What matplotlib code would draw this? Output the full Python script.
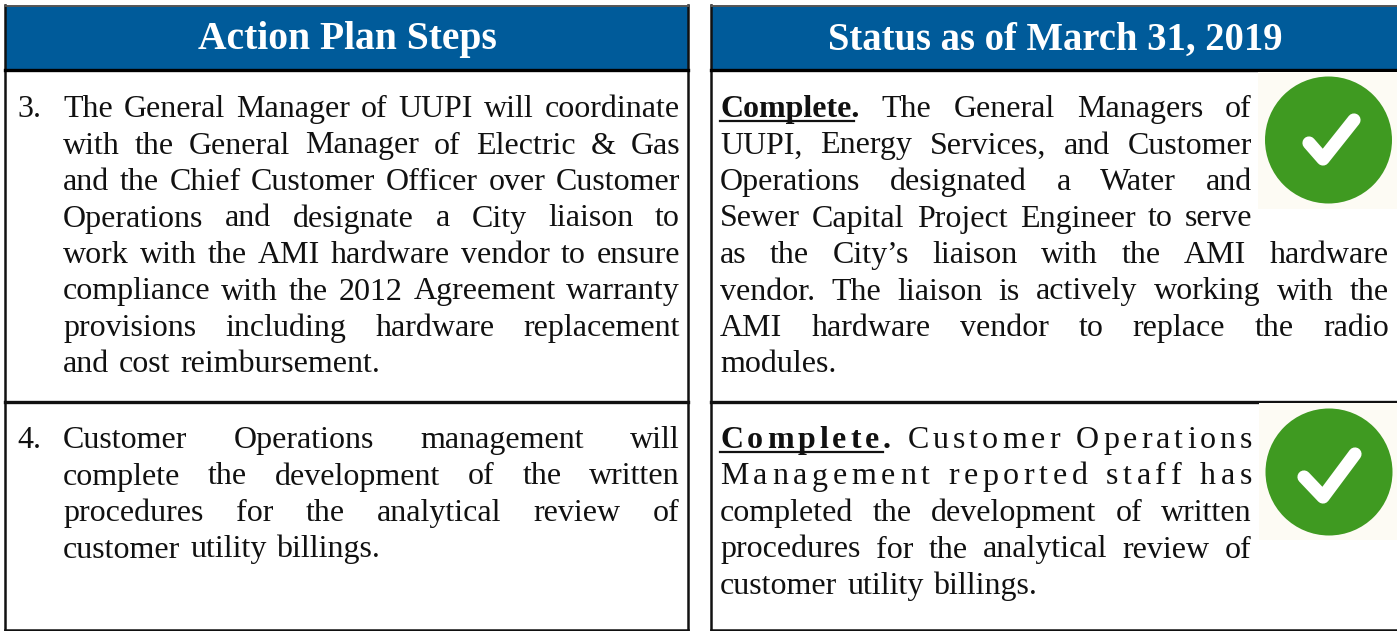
import matplotlib
matplotlib.use("Agg")
import matplotlib.pyplot as plt
from matplotlib.patches import Rectangle, Circle

plt.rcParams['font.family'] = ['Liberation Serif', 'DejaVu Serif']

headers = ['Action Plan Steps', 'Status as of March 31, 2019']
step_numbers = ['3.', '4.']

step3_lines = ['The General Manager of UUPI will coordinate',
               'with the General Manager of Electric & Gas',
               'and the Chief Customer Officer over Customer',
               'Operations and designate a City liaison to',
               'work with the AMI hardware vendor to ensure',
               'compliance with the 2012 Agreement warranty',
               'provisions including hardware replacement',
               'and cost reimbursement.']
step4_lines = ['Customer Operations management will',
               'complete the development of the written',
               'procedures for the analytical review of',
               'customer utility billings.']
status3_lines = ['Complete. The General Managers of',
                 'UUPI, Energy Services, and Customer',
                 'Operations designated a Water and',
                 'Sewer Capital Project Engineer to serve',
                 'as the City\u2019s liaison with the AMI hardware',
                 'vendor. The liaison is actively working with the',
                 'AMI hardware vendor to replace the radio',
                 'modules.']
status4_lines = ['Complete. Customer Operations',
                 'Management reported staff has',
                 'completed the development of written',
                 'procedures for the analytical review of',
                 'customer utility billings.']

BLUE = '#005b9a'
GREEN = '#3f9a21'
CREAM = '#fdfbf4'
FS = 23

fig = plt.figure(figsize=(13.97, 6.31), dpi=100)
ax = fig.add_axes([0, 0, 1, 1])
ax.set_xlim(0, 1397)
ax.set_ylim(631, 0)
ax.axis('off')
rend = fig.canvas.get_renderer()


def width(s, **kw):
    t = ax.text(0, 0, s, fontsize=FS, **kw)
    w = t.get_window_extent(rend).width
    t.remove()
    return w


def put_line(line, x0, x1, y, justify=True, spread=False, first_bold=False):
    if spread:
        # letter spaced lines, second cell of the status column
        items = list(line)
        bold_n = len('Complete.') if first_bold else 0
        ws = [width('n' if c == ' ' else c, fontweight='bold' if i < bold_n else 'normal') * (0.55 if c == ' ' else 1)
              for i, c in enumerate(items)]
        gap = (x1 - x0 - sum(ws)) / (len(items) - 1)
        x = x0
        for i, c in enumerate(items):
            ax.text(x, y, c, fontsize=FS, color='#111111', va='baseline',
                    fontweight='bold' if i < bold_n else 'normal')
            x += ws[i] + gap
        if first_bold:
            ax.plot([x0, x0 + sum(ws[:bold_n - 1]) + gap * (bold_n - 1)], [y + 4, y + 4], color='#111111', lw=1.6)
        return
    words = line.split(' ')
    ws = [width(w, fontweight='bold' if (first_bold and i == 0) else 'normal') for i, w in enumerate(words)]
    space = width('n') * 0.62
    if justify:
        space = (x1 - x0 - sum(ws)) / (len(words) - 1)
    x = x0
    for i, w in enumerate(words):
        bold = first_bold and i == 0
        ax.text(x, y, w, fontsize=FS, color='#111111', va='baseline', fontweight='bold' if bold else 'normal')
        if bold:
            ax.plot([x, x + ws[i] - 5], [y + 4, y + 4], color='#111111', lw=1.6)
        x += ws[i] + space


def panel(x0, x1):
    ax.add_patch(Rectangle((x0, 6), x1 - x0, 64, facecolor=BLUE, edgecolor='none'))
    ax.plot([x0, x0], [5, 631], color='#111111', lw=1.8)
    ax.plot([x1, x1], [5, 631], color='#111111', lw=1.8)
    ax.plot([x0, x1], [5.5, 5.5], color='#555555', lw=1.4)
    ax.plot([x0, x1], [70, 70], color='black', lw=2.4)
    ax.plot([x0, x1], [402, 402], color='#111111', lw=2.4)
    ax.plot([x0, x1], [630, 630], color='#111111', lw=1.8)


def check_icon(cx, cy, bx0, by0, bx1, by1, pts):
    ax.add_patch(Rectangle((bx0, by0), bx1 - bx0, by1 - by0, facecolor=CREAM, edgecolor='none', zorder=2))
    ax.add_patch(Circle((cx, cy), 63.5, facecolor=GREEN, edgecolor='none', zorder=3))
    ax.plot([p[0] for p in pts], [p[1] for p in pts], color='white', lw=9.5,
            solid_capstyle='round', solid_joinstyle='round', zorder=4)


panel(5, 688)
panel(711, 1399)

ax.text(347, 40, headers[0], color='white', fontsize=28.5, fontweight='bold', ha='center', va='center')
ax.text(1055, 40, headers[1], color='white', fontsize=27.8, fontweight='bold', ha='center', va='center')

# left column
ax.text(17, 117, step_numbers[0], fontsize=FS, color='#111111', va='baseline')
for i, line in enumerate(step3_lines):
    put_line(line, 63, 680, 117 + i * 36.5, justify=i < len(step3_lines) - 1)
ax.text(17, 448, step_numbers[1], fontsize=FS, color='#111111', va='baseline')
for i, line in enumerate(step4_lines):
    put_line(line, 63, 680, 448 + i * 36.5, justify=i < len(step4_lines) - 1)

# right column
for i, line in enumerate(status3_lines):
    put_line(line, 720, 1252 if i < 4 else 1389, 117 + i * 36.5,
             justify=i < len(status3_lines) - 1, first_bold=i == 0)
for i, line in enumerate(status4_lines):
    put_line(line, 720, 1252, 448 + i * 36.5, justify=i < len(status4_lines) - 1,
             spread=i < 2, first_bold=i == 0)

check_icon(1328.5, 140, 1258, 72, 1397, 209, [(1309, 143), (1323, 159), (1354, 120)])
check_icon(1329, 472, 1259, 403, 1397, 540, [(1304, 477), (1323, 497), (1355, 454)])

fig.savefig('out.png', dpi=100)
